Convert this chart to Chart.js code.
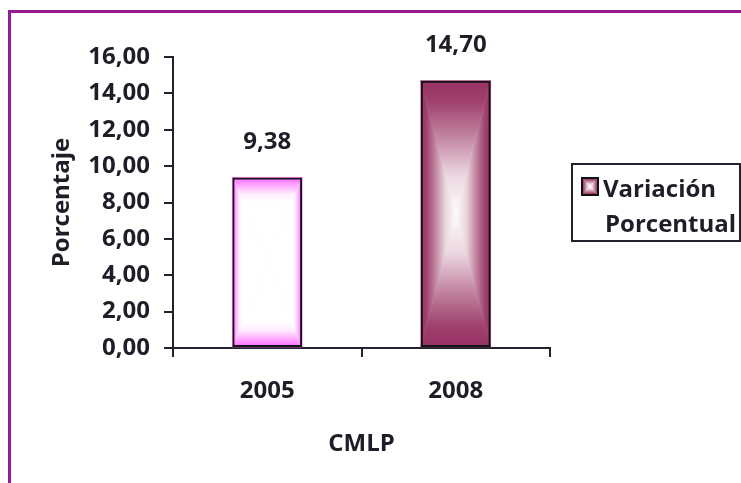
<!DOCTYPE html>
<html>
<head>
<meta charset="utf-8">
<script src="https://cdn.jsdelivr.net/npm/chart.js@4/dist/chart.umd.min.js"></script>
<style>
html, body { margin: 0; padding: 0; background: #fff; }
#wrap { position: relative; width: 741px; height: 483px; overflow: hidden; }
#frame { position: absolute; left: 8px; top: 10px; width: 800px; height: 600px; box-sizing: border-box;
         border-left: 3px solid #951c95; border-top: 3px solid #951c95; pointer-events: none; }
canvas { position: absolute; left: 0; top: 0; }
</style>
</head>
<body>
<div id="wrap">
    <canvas id="chart" width="741" height="483"></canvas>
    <div id="frame"></div>
</div>
<script>
// data
const categories = ['2005', '2008'];
const values = [9.38, 14.70];
const seriesName = 'Variación Porcentual';
const yTitle = 'Porcentaje';
const xTitle = 'CMLP';
const yMin = 0;
const yMax = 16;
const yStep = 2;

// styles
const textColor = '#1e1e28';
const axisColor = '#22222c';
const font = { family: "'Open Sans', sans-serif", size: 24, weight: 'bold' };
// gradient stops from bar edge (0) to bar centre (1)
const barStops = [
    [[0, '#ff66ff'], [0.08, '#ffa0ff'], [0.2, '#ffeeff'], [0.3, '#ffffff'], [1, '#ffffff']],
    [[0, '#993366'], [0.15, '#9e3f6c'], [0.4, '#bf7f9d'], [0.7, '#ead5df'], [1, '#fdfbfc']]
];

function fmt(v) {
    return Number(v).toFixed(2).replace('.', ',');
}

function makeGrad(ctx, ax, ay, bx, by, stops) {
    const g = ctx.createLinearGradient(ax, ay, bx, by);
    stops.forEach(s => g.addColorStop(s[0], s[1]));
    return g;
}

// rectangular "from centre" gradient, built from four triangles
function paintRect(ctx, x0, y0, x1, y1, stops) {
    const cx = (x0 + x1) / 2, cy = (y0 + y1) / 2;
    const parts = [
        [[x0, y0], [x1, y0], makeGrad(ctx, 0, y0, 0, cy, stops)],
        [[x0, y1], [x1, y1], makeGrad(ctx, 0, y1, 0, cy, stops)],
        [[x0, y0], [x0, y1], makeGrad(ctx, x0, 0, cx, 0, stops)],
        [[x1, y0], [x1, y1], makeGrad(ctx, x1, 0, cx, 0, stops)]
    ];
    ctx.save();
    parts.forEach(p => {
        ctx.beginPath();
        ctx.moveTo(p[0][0], p[0][1]);
        ctx.lineTo(p[1][0], p[1][1]);
        ctx.lineTo(cx, cy);
        ctx.closePath();
        ctx.fillStyle = p[2];
        ctx.fill();
        ctx.strokeStyle = p[2];
        ctx.lineWidth = 0.6;
        ctx.stroke();
    });
    ctx.restore();
}

const gradientBars = {
    id: 'gradientBars',
    beforeDatasetsDraw(chart) {
        const ctx = chart.ctx;
        chart.getDatasetMeta(0).data.forEach((bar, i) => {
            const p = bar.getProps(['x', 'y', 'base', 'width'], true);
            paintRect(ctx, p.x - p.width / 2, Math.min(p.y, p.base), p.x + p.width / 2, Math.max(p.y, p.base), barStops[i]);
        });
    }
};

const valueLabels = {
    id: 'valueLabels',
    afterDatasetsDraw(chart) {
        const ctx = chart.ctx;
        ctx.save();
        ctx.font = `${font.weight} ${font.size}px ${font.family}`;
        ctx.fillStyle = textColor;
        ctx.textAlign = 'center';
        ctx.textBaseline = 'middle';
        chart.getDatasetMeta(0).data.forEach((bar, i) => {
            ctx.fillText(fmt(chart.data.datasets[0].data[i]), bar.x, bar.y - 35);
        });
        ctx.restore();
    }
};

const boxLegend = {
    id: 'boxLegend',
    afterDraw(chart) {
        const ctx = chart.ctx;
        const left = chart.chartArea.right + 22;
        const top = 164;
        ctx.save();
        ctx.fillStyle = '#fff';
        ctx.fillRect(left, top, 168, 77);
        ctx.strokeStyle = axisColor;
        ctx.lineWidth = 2;
        ctx.strokeRect(left, top, 168, 77);

        paintRect(ctx, left + 10, top + 14, left + 26, top + 31, barStops[1]);
        ctx.strokeStyle = '#111';
        ctx.strokeRect(left + 10, top + 14, 16, 17);

        ctx.font = `${font.weight} ${font.size}px ${font.family}`;
        ctx.fillStyle = textColor;
        ctx.textAlign = 'left';
        ctx.textBaseline = 'middle';
        const words = chart.data.datasets[0].label.split(' ');
        ctx.fillText(words[0], left + 31, top + 26);
        ctx.fillText(words.slice(1).join(' '), left + 33, top + 61);
        ctx.restore();
    }
};

const ctx = document.getElementById('chart').getContext('2d');

new Chart(ctx, {
    type: 'bar',
    data: {
        labels: categories,
        datasets: [{
            label: seriesName,
            data: values,
            backgroundColor: 'rgba(0,0,0,0)',
            borderColor: '#141418',
            borderWidth: 2,
            borderSkipped: false,
            categoryPercentage: 1,
            barPercentage: 0.37
        }]
    },
    options: {
        responsive: false,
        animation: false,
        devicePixelRatio: 1,
        layout: { padding: { left: 48, top: 57, right: 191, bottom: 0 } },
        plugins: {
            legend: { display: false },
            tooltip: { enabled: false }
        },
        scales: {
            x: {
                afterFit(scale) { scale.height = 135; },
                border: { display: true, color: axisColor, width: 2 },
                grid: { drawOnChartArea: false, drawTicks: true, tickLength: 9, color: axisColor, lineWidth: 2, offset: true },
                ticks: { padding: 20, color: textColor, font: font },
                title: { display: true, text: xTitle, color: textColor, font: font, padding: { top: 0, bottom: 24 } }
            },
            y: {
                min: yMin,
                max: yMax,
                afterFit(scale) { scale.width = 125; },
                border: { display: true, color: axisColor, width: 2 },
                grid: { drawOnChartArea: false, drawTicks: true, tickLength: 9, color: axisColor, lineWidth: 2 },
                ticks: { stepSize: yStep, padding: 14, color: textColor, font: font, callback: v => fmt(v) },
                title: { display: true, text: yTitle, color: textColor, font: font, padding: { top: 0, bottom: 0 } }
            }
        }
    },
    plugins: [gradientBars, valueLabels, boxLegend]
});
</script>
</body>
</html>
